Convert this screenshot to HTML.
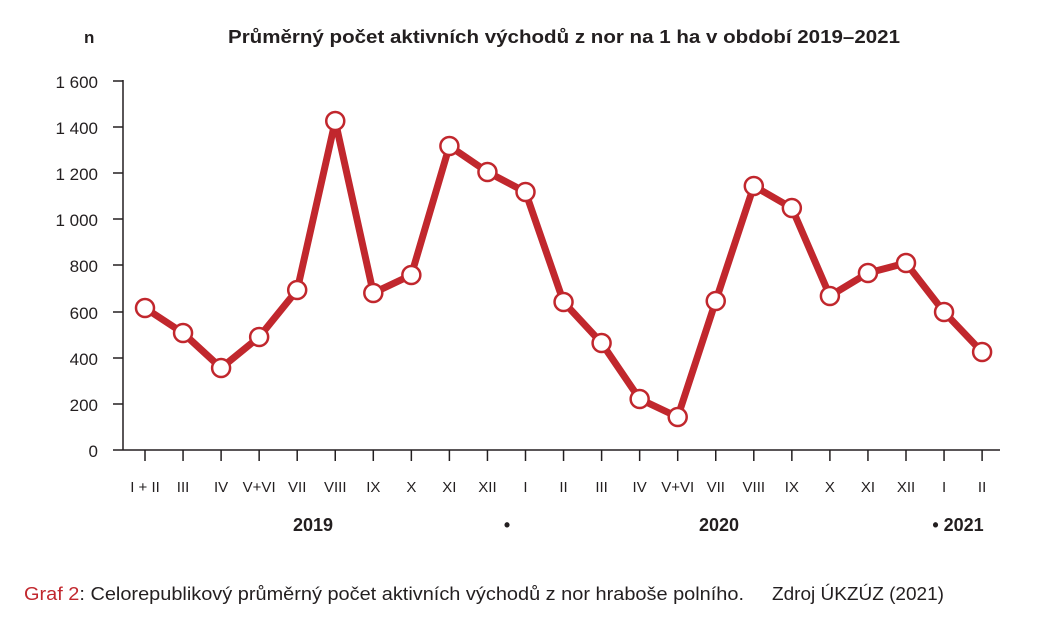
<!DOCTYPE html>
<html><head><meta charset="utf-8"><style>body{margin:0;background:#fff}svg{display:block}text{font-family:"Liberation Sans",sans-serif;fill:#231f20}</style></head><body>
<svg width="1049" height="633" viewBox="0 0 1049 633">
<text x="84" y="43" font-size="17" font-weight="bold">n</text>
<text x="228" y="43" font-size="18" font-weight="bold" textLength="672" lengthAdjust="spacingAndGlyphs">Průměrný počet aktivních východů z nor na 1 ha v období 2019–2021</text>
<g stroke="#231f20" stroke-width="1.5">
<line x1="123" y1="80" x2="123" y2="450"/>
<line x1="113" y1="450" x2="1000" y2="450"/>
<line x1="113" y1="81" x2="123" y2="81"/><line x1="113" y1="127" x2="123" y2="127"/><line x1="113" y1="173" x2="123" y2="173"/><line x1="113" y1="219" x2="123" y2="219"/><line x1="113" y1="265" x2="123" y2="265"/><line x1="113" y1="312" x2="123" y2="312"/><line x1="113" y1="358" x2="123" y2="358"/><line x1="113" y1="404" x2="123" y2="404"/>
</g>
<g font-size="17" text-anchor="end">
<text x="98" y="88">1 600</text><text x="98" y="134">1 400</text><text x="98" y="180">1 200</text><text x="98" y="226">1 000</text><text x="98" y="272">800</text><text x="98" y="319">600</text><text x="98" y="365">400</text><text x="98" y="411">200</text><text x="98" y="457">0</text>
</g>
<g id="xt" stroke="#231f20" stroke-width="1.5"></g>
<g id="xl" font-size="15" text-anchor="middle"></g>
<g font-size="18" font-weight="bold" text-anchor="middle">
<text x="313" y="531">2019</text><text x="719" y="531">2020</text><text x="958" y="531">• 2021</text><text x="507" y="531">•</text>
</g>
<polyline id="ln" fill="none" stroke="#c1272d" stroke-width="7" stroke-linejoin="round"/>
<g id="pts"></g>
<text x="24" y="600" font-size="18" textLength="720" lengthAdjust="spacingAndGlyphs"><tspan style="fill:#c1272d">Graf 2</tspan>: Celorepublikový průměrný počet aktivních východů z nor hraboše polního.</text>
<text x="772" y="600" font-size="18" textLength="172" lengthAdjust="spacingAndGlyphs">Zdroj ÚKZÚZ (2021)</text>
</svg>
<script>
var L=["I + II","III","IV","V+VI","VII","VIII","IX","X","XI","XII","I","II","III","IV","V+VI","VII","VIII","IX","X","XI","XII","I","II"];
var Y=[308,333,368,337,290,121,293,275,146,172,192,302,343,399,417,301,186,208,296,273,263,312,352];
var ns="http://www.w3.org/2000/svg",xt=document.getElementById("xt"),xl=document.getElementById("xl"),pts=document.getElementById("pts"),p=[];
L.forEach(function(l,i){var x=145+i*38.05;
var t=document.createElementNS(ns,"line");t.setAttribute("x1",x);t.setAttribute("x2",x);t.setAttribute("y1",450);t.setAttribute("y2",461);xt.appendChild(t);
var s=document.createElementNS(ns,"text");s.setAttribute("x",x);s.setAttribute("y",492);s.textContent=l;xl.appendChild(s);
p.push(x+","+Y[i]);
var c=document.createElementNS(ns,"circle");c.setAttribute("cx",x);c.setAttribute("cy",Y[i]);c.setAttribute("r",9);c.setAttribute("fill","#fff");c.setAttribute("stroke","#c1272d");c.setAttribute("stroke-width","2.5");pts.appendChild(c);});
document.getElementById("ln").setAttribute("points",p.join(" "));
</script>
</body></html>
